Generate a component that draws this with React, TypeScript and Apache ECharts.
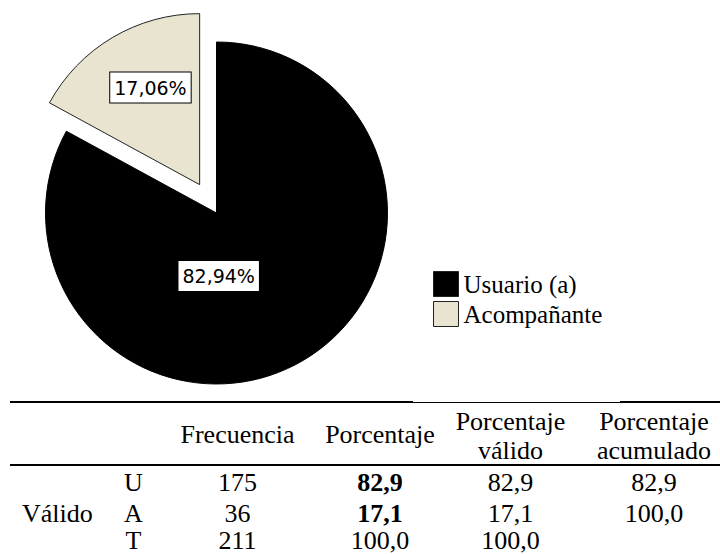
import React, { useEffect, useRef } from "react";
import * as echarts from "echarts";

// ---- data ----
const categories = ["Usuario (a)", "Acompañante"];
const frequencies = [175, 36];
const sliceColors = ["#000000", "#E9E4D0"];

const rowGroup = "Válido";
const rowCodes = ["U", "A", "T"];
const freqCol = [175, 36, 211];
const pctCol = [82.9, 17.1, 100.0];
const validCol = [82.9, 17.1, 100.0];
const cumCol: (number | null)[] = [82.9, 100.0, null];
const headers = [["Frecuencia"], ["Porcentaje"], ["Porcentaje", "válido"], ["Porcentaje", "acumulado"]];

// ---- layout / style (not data) ----
const labelShift = [
  { dx: -43, dy: -13 },
  { dx: -4, dy: -21 },
];
const colX = [237.5, 380, 510.5, 654];
const rowY = [482, 513.5, 540.5];
const tableFont = "Liberation Serif, Times New Roman, serif";

const fmt = (v: number) => v.toFixed(1).replace(".", ",");

export default function App() {
  const ref = useRef<HTMLDivElement>(null);
  useEffect(() => {
    if (!ref.current) return;
    const chart = echarts.init(ref.current, null, { renderer: "svg" });

    const g: any[] = [];
    const txt = (x: number, y: number, text: string, align = "center", bold = false) =>
      g.push({
        type: "text",
        x,
        y,
        style: {
          text,
          fill: "#000",
          fontFamily: tableFont,
          fontSize: 26,
          fontWeight: bold ? "bold" : "normal",
          textAlign: align,
          textVerticalAlign: "middle",
        },
      });
    const hline = (x1: number, x2: number, y: number, w: number) =>
      g.push({
        type: "line",
        shape: { x1, y1: y, x2, y2: y },
        style: { stroke: "#000", lineWidth: w },
      });

    hline(10, 413, 402, 2.2);
    hline(413, 620, 402.5, 1);
    hline(620, 720, 402, 2.2);
    hline(10, 720, 465, 2.2);

    headers.forEach((h, i) => {
      if (h.length === 1) txt(colX[i], 434.5, h[0]);
      else {
        txt(colX[i], 421, h[0]);
        txt(colX[i], 450, h[1]);
      }
    });
    txt(22, rowY[1], rowGroup, "left");
    rowCodes.forEach((c, r) => {
      txt(133.5, rowY[r], c);
      txt(colX[0], rowY[r], String(freqCol[r]));
      txt(colX[1], rowY[r], fmt(pctCol[r]), "center", r < 2);
      txt(colX[2], rowY[r], fmt(validCol[r]));
      if (cumCol[r] != null) txt(colX[3], rowY[r], fmt(cumCol[r] as number));
    });

    const data = categories.map((name, i) => ({
      name,
      value: frequencies[i],
      selected: i === 1,
      itemStyle: {
        color: sliceColors[i],
        borderColor: i === 0 ? "#000" : "#222",
        borderWidth: 1,
      },
    }));

    chart.setOption({
      animation: false,
      legend: {
        orient: "vertical",
        left: 433,
        top: 271,
        padding: 0,
        itemWidth: 25,
        itemHeight: 25,
        itemGap: 4,
        icon: "rect",
        selectedMode: false,
        data: categories,
        itemStyle: { borderColor: "#222", borderWidth: 1 },
        textStyle: { fontFamily: "Liberation Serif", fontSize: 25, color: "#000" },
      },
      series: [
        {
          type: "pie",
          center: [216.5, 213],
          radius: 171,
          startAngle: 90,
          clockwise: true,
          selectedMode: "single",
          selectedOffset: 33,
          avoidLabelOverlap: false,
          emphasis: { disabled: true },
          label: {
            show: true,
            position: "inside",
            formatter: (p: any) => p.percent.toFixed(2).replace(".", ",") + "%",
            fontFamily: "DejaVu Sans",
            fontSize: 19,
            color: "#000",
            backgroundColor: "#fff",
            borderColor: "#000",
            borderWidth: 1,
            padding: [6, 4, 5, 4],
          },
          labelLine: { show: false },
          labelLayout: (p: any) => labelShift[p.dataIndex],
          data,
        },
      ],
      graphic: g,
    });
    return () => chart.dispose();
  }, []);
  return (
    <div
      ref={ref}
      style={{ position: "fixed", left: 0, top: 0, width: 720, height: 554, background: "#fff" }}
    />
  );
}
